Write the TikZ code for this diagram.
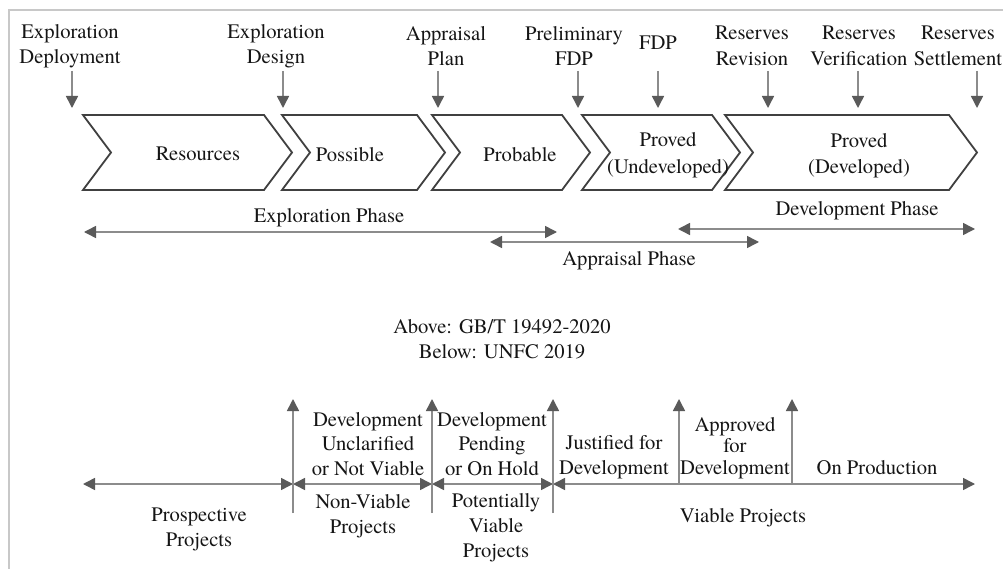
\documentclass[tikz,border=0pt]{standalone}
\usepackage{fontspec}
\IfFontExistsTF{texgyretermes-regular.otf}{\setmainfont{texgyretermes-regular.otf}}{\setmainfont{Liberation Serif}}
\usetikzlibrary{arrows.meta}
\definecolor{linegray}{HTML}{8C8C8C}
\definecolor{tipgray}{HTML}{5A5A5A}
\definecolor{boxgray}{HTML}{404040}
\definecolor{framegray}{HTML}{C8C8C8}
\definecolor{txt}{HTML}{151515}
\tikzset{
  lbl/.style={font=\fontsize{20.6}{25.5}\selectfont, text=txt, align=center, inner sep=0pt},
  chev/.style={draw=boxgray, line width=1.8pt, line join=miter},
  tipA/.tip={Triangle[length=12pt,width=12pt,color=tipgray]},
  conn/.style={draw=linegray, line width=1.5pt, -tipA},
  dbl/.style={draw=linegray, line width=1.5pt, tipA-tipA},
  frame/.style={draw=framegray, line width=1.5pt}
}
\begin{document}
\begin{tikzpicture}[x=1pt,y=-1pt]
\useasboundingbox (0,0) rectangle (1003,569);
% frame
\draw[frame] (9,569) -- (9,10) -- (1003,10);

% chevrons
\draw[chev] (83,115) -- (264,115) -- (292,152.5) -- (264,190) -- (83,190) -- (111,152.5) -- cycle;
\draw[chev] (282,115) -- (417,115) -- (445,152.5) -- (417,190) -- (282,190) -- (310,152.5) -- cycle;
\draw[chev] (432,115) -- (562,115) -- (590,152.5) -- (562,190) -- (432,190) -- (460,152.5) -- cycle;
\draw[chev] (582,115) -- (712,115) -- (740,152.5) -- (712,190) -- (582,190) -- (610,152.5) -- cycle;
\draw[chev] (725,115) -- (949,115) -- (977,152.5) -- (949,190) -- (725,190) -- (753,152.5) -- cycle;

\node[lbl] (c1) at (198,154) {Resources};
\node[lbl] (c2) at (350,155) {Possible};
\node[lbl] (c3) at (520,155) {Probable};
\node[lbl, font=\fontsize{20.6}{27}\selectfont] (c4) at (668,155) {Proved\\(Undeveloped)};
\node[lbl, font=\fontsize{20.6}{26}\selectfont] (c5) at (859,156) {Proved\\(Developed)};

% top labels
\node[lbl] (t1) at (70,46) {Exploration\\Deployment};
\node[lbl] (t2) at (276,46) {Exploration\\Design};
\node[lbl] (t3) at (446,46) {Appraisal\\Plan};
\node[lbl] (t4) at (574,46) {Preliminary\\FDP};
\node[lbl] (t5) at (658,43) {FDP};
\node[lbl] (t6) at (752,46) {Reserves\\Revision};
\node[lbl] (t7) at (859,46) {Reserves\\Verification};
\node[lbl] (t8) at (958,46) {Reserves\\Settlement};

\foreach \i/\x in {1/72,2/283,3/438,4/578,5/658,6/768,7/858,8/977}{
  \coordinate (ts\i) at (\x,71);
  \coordinate (te\i) at (\x,108);
  \draw[conn] (ts\i) -- (te\i);
}

% phases
\coordinate (ex1) at (84,232);
\coordinate (ex2) at (557,232);
\coordinate (ap1) at (490,242);
\coordinate (ap2) at (759,242);
\coordinate (dv1) at (678,229);
\coordinate (dv2) at (975,229);
\draw[dbl] (ex1) -- (ex2);
\draw[dbl] (ap1) -- (ap2);
\draw[dbl] (dv1) -- (dv2);
\node[lbl] (pe) at (329,218) {Exploration Phase};
\node[lbl] (pa) at (629,261) {Appraisal Phase};
\node[lbl] (pd) at (857,211) {Development Phase};

% middle
\node[lbl, font=\fontsize{20.6}{25}\selectfont] (mid) at (502,339) {Above: GB/T 19492-2020\\Below: UNFC 2019};

% bottom axis
\coordinate (h0) at (83,484);
\coordinate (h1) at (293,484);
\coordinate (h2) at (432,484);
\coordinate (h3) at (553,484);
\coordinate (h4) at (975,484);
\draw[dbl] (h0) -- (h1);
\draw[dbl] (h1) -- (h2);
\draw[dbl] (h2) -- (h3);
\draw[dbl] (h3) -- (h4);

\foreach \i/\x in {1/293,2/432,3/553}{
  \coordinate (vb\i) at (\x,513);
  \coordinate (vt\i) at (\x,399);
  \draw[conn] (vb\i) -- (vt\i);
}
\coordinate (vb4) at (679,484);
\coordinate (vt4) at (679,399);
\coordinate (vb5) at (792,484);
\coordinate (vt5) at (792,399);
\draw[conn] (vb4) -- (vt4);
\draw[conn] (vb5) -- (vt5);

% bottom labels
\node[lbl, font=\fontsize{20.6}{24.5}\selectfont] (b1) at (368,444) {Development\\Unclarified\\or Not Viable};
\node[lbl, font=\fontsize{20.6}{24.5}\selectfont] (b2) at (492,444) {Development\\Pending\\or On Hold};
\node[lbl, font=\fontsize{20.6}{25}\selectfont] (b3) at (363,516) {Non-Viable\\Projects};
\node[lbl, font=\fontsize{20.6}{25}\selectfont] (b4) at (496,528) {Potentially\\Viable\\Projects};
\node[lbl, font=\fontsize{20.6}{25}\selectfont] (b5) at (199,529) {Prospective\\Projects};
\node[lbl, font=\fontsize{20.6}{25}\selectfont] (b6) at (614,457) {Justified for\\Development};
\node[lbl, font=\fontsize{20.6}{21.5}\selectfont] (b7) at (735,448) {Approved\\for\\Development};
\node[lbl] (b8) at (877,468) {On Production};
\node[lbl] (b9) at (743,518) {Viable Projects};
\end{tikzpicture}
\end{document}
